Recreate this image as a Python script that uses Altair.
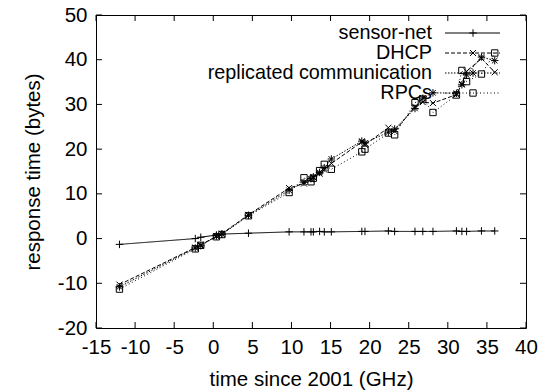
import altair as alt
import pandas as pd

# ---- data ----
x_vals = [-12, -2.3, -1.6, 0.4, 1.1, 4.5, 9.7, 11.6, 12.5, 12.8, 13.6, 14.2, 15.1,
          19.0, 19.4, 22.4, 23.2, 25.8, 26.8, 28.1, 31.1, 31.8, 32.4, 34.3, 36.0]

sensor_net = [-1.3, 0.0, 0.3, 0.8, 1.0, 1.2, 1.5, 1.5, 1.5, 1.5, 1.6, 1.5, 1.5,
              1.6, 1.6, 1.7, 1.6, 1.6, 1.6, 1.6, 1.7, 1.6, 1.6, 1.7, 1.7]
dhcp = [-10.3, -2.0, -1.4, 0.5, 1.1, 5.3, 11.3, 12.3, 13.2, 13.7, 14.5, 15.4, 16.8,
        21.6, 21.0, 24.8, 24.0, 29.5, 30.5, 30.3, 32.2, 34.6, 37.4, 40.3, 37.2]
replicated = [-10.8, -2.1, -1.6, 0.6, 1.0, 5.2, 10.8, 12.6, 13.4, 13.8, 14.8, 15.8, 17.8,
              21.8, 21.4, 23.8, 24.5, 29.1, 31.4, 32.6, 32.5, 34.4, 36.6, 40.6, 39.8]
rpcs = [-11.3, -2.3, -1.5, 0.4, 0.9, 5.1, 10.3, 13.6, 12.7, 13.5, 15.2, 16.6, 15.5,
        19.4, 20.0, 23.6, 23.2, 30.4, 31.2, 28.2, 32.1, 37.6, 35.1, 36.8, 41.5]

series_names = ["sensor-net", "DHCP", "replicated communication", "RPCs"]
series_values = [sensor_net, dhcp, replicated, rpcs]

x_ticks = list(range(-15, 41, 5))
y_ticks = list(range(-20, 51, 10))

# ---- styles ----
FONT = "Liberation Sans"
FS = 20.5
LFS = 19.8
W, H = 430, 313
PLUS = "M-1,0L1,0M0,-1L0,1"
XMARK = "M-0.8,-0.8L0.8,0.8M-0.8,0.8L0.8,-0.8"
STAR = "M-1,0L1,0M0,-1L0,1M-0.75,-0.75L0.75,0.75M-0.75,0.75L0.75,-0.75"
SQUARE = "M-0.85,-0.85L0.85,-0.85L0.85,0.85L-0.85,0.85Z"
shapes = [PLUS, XMARK, STAR, SQUARE]
dashes = [[1, 0], [4, 2], [1.5, 1.5], [1, 2.5]]
MSIZE = 56

rows = []
for name, vals in zip(series_names, series_values):
    for i, (xv, yv) in enumerate(zip(x_vals, vals)):
        rows.append({"series": name, "x": xv, "y": yv, "order": i})
df = pd.DataFrame(rows)

xscale = alt.Scale(domain=[-15, 40], nice=False, zero=False)
yscale = alt.Scale(domain=[-20, 50], nice=False, zero=False)

x_axis = alt.Axis(values=x_ticks, title="time since 2001 (GHz)", grid=False,
                  ticks=False, domain=False, labelFont=FONT, labelFontSize=FS,
                  labelColor="black", labelPadding=9, labelOverlap=False,
                  labelFlush=False, labelBound=False,
                  labelExpr="'' + datum.value", titleFont=FONT,
                  titleFontSize=FS, titleFontWeight="normal", titleColor="black",
                  titlePadding=12)
y_axis = alt.Axis(values=y_ticks, title="response time (bytes)", grid=False,
                  ticks=False, domain=False, labelFont=FONT, labelFontSize=FS,
                  labelColor="black", labelPadding=9, labelOverlap=False,
                  labelFlush=False, labelBound=False,
                  labelExpr="'' + datum.value", titleFont=FONT,
                  titleFontSize=FS, titleFontWeight="normal", titleColor="black",
                  titlePadding=14)

base = alt.Chart(df)

lines = base.mark_line(strokeWidth=1, color="black").encode(
    x=alt.X("x:Q", scale=xscale, axis=x_axis),
    y=alt.Y("y:Q", scale=yscale, axis=y_axis),
    order="order:Q",
    detail="series:N",
    strokeDash=alt.StrokeDash("series:N", scale=alt.Scale(domain=series_names, range=dashes),
                              legend=None),
)

points = base.mark_point(filled=False, strokeWidth=1, color="black", opacity=1).encode(
    x=alt.X("x:Q", scale=xscale, axis=x_axis),
    y=alt.Y("y:Q", scale=yscale, axis=y_axis),
    shape=alt.Shape("series:N", scale=alt.Scale(domain=series_names, range=shapes),
                    legend=None),
    size=alt.value(MSIZE),
)

tick_x = pd.DataFrame({"v": x_ticks})
tick_y = pd.DataFrame({"v": y_ticks})
TL = 6
xt_bottom = alt.Chart(tick_x).mark_rule(color="black", strokeWidth=1).encode(
    x=alt.X("v:Q", scale=xscale, axis=x_axis), y=alt.value(H), y2=alt.value(H - TL))
xt_top = alt.Chart(tick_x).mark_rule(color="black", strokeWidth=1).encode(
    x=alt.X("v:Q", scale=xscale, axis=x_axis), y=alt.value(0), y2=alt.value(TL))
yt_left = alt.Chart(tick_y).mark_rule(color="black", strokeWidth=1).encode(
    y=alt.Y("v:Q", scale=yscale, axis=y_axis), x=alt.value(0), x2=alt.value(TL))
yt_right = alt.Chart(tick_y).mark_rule(color="black", strokeWidth=1).encode(
    y=alt.Y("v:Q", scale=yscale, axis=y_axis), x=alt.value(W), x2=alt.value(W - TL))

# ---- gnuplot-style key (label, then line sample with a marker) ----
legend_layers = []
for i, name in enumerate(series_names):
    ky = 18 + 20 * i
    ldf = pd.DataFrame({"series": [name]})
    legend_layers.append(alt.Chart(ldf).mark_text(
        align="right", baseline="middle", font=FONT, fontSize=LFS, color="black").encode(
        text="series:N", x=alt.value(336), y=alt.value(ky)))
    legend_layers.append(alt.Chart(ldf).mark_rule(
        color="black", strokeWidth=1, strokeDash=dashes[i]).encode(
        x=alt.value(349), x2=alt.value(404), y=alt.value(ky)))
    legend_layers.append(alt.Chart(ldf).mark_point(
        filled=False, strokeWidth=1, color="black", opacity=1, shape=shapes[i]).encode(
        x=alt.value(377), y=alt.value(ky), size=alt.value(MSIZE)))

chart = alt.layer(lines, points, xt_bottom, xt_top, yt_left, yt_right, *legend_layers).properties(
    width=W, height=H,
    autosize=alt.AutoSizeParams(type="none"),
    padding={"left": 96, "top": 15, "right": 25, "bottom": 64},
    background="white",
).configure_view(stroke="black", strokeWidth=1).configure_axis(labelOverlap=False)

chart.save("out.html", embed_options={"renderer": "svg", "actions": False})
